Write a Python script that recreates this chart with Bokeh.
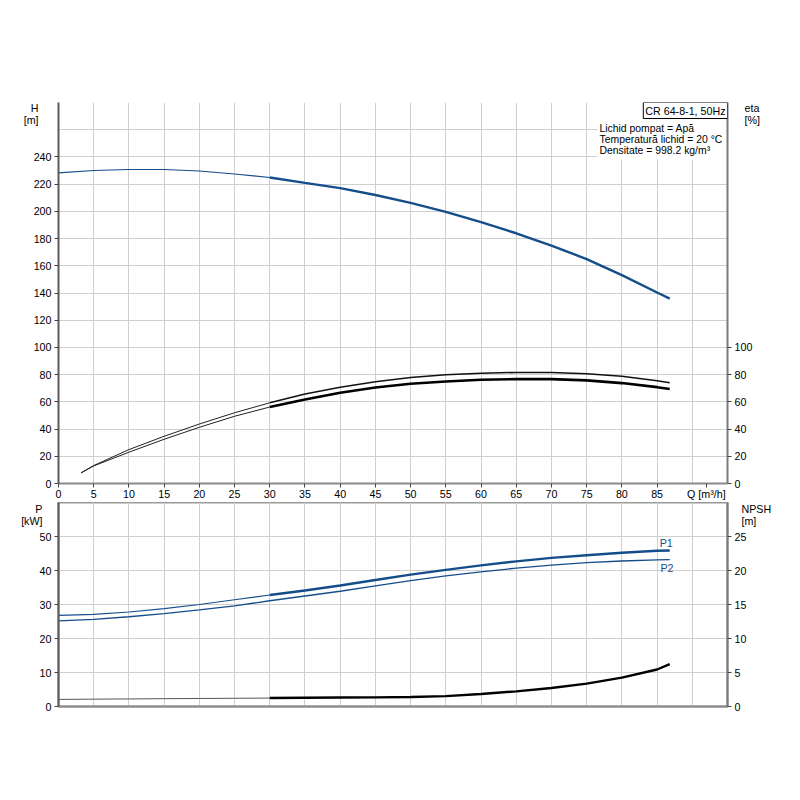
from bokeh.plotting import figure
from bokeh.models import Range1d, LinearAxis, FixedTicker, Label, BoxAnnotation
from bokeh.layouts import column
from bokeh.embed import file_html
from bokeh.resources import INLINE

FONT = "Liberation Sans"
FS = "10.7px"
BLUE = "#154d8b"
GRID = "#cfcfcf"

# ---------------- data ----------------
q_h = [0, 5, 10, 15, 20, 25, 30, 35, 40, 45, 50, 55, 60, 65, 70, 75, 80, 85, 86.8]
h = [228.3, 230.0, 230.8, 230.8, 229.7, 227.5, 224.9, 220.9, 217.1, 212.0, 206.2,
     199.6, 192.1, 183.9, 174.9, 164.9, 153.1, 140.4, 135.9]

q_eta = [3.2, 5, 10, 15, 20, 25, 30, 35, 40, 45, 50, 55, 60, 65, 70, 75, 80, 85, 86.8]
eta_upper = [7.8, 13.2, 24.9, 34.7, 43.7, 52.0, 59.3, 65.7, 70.8, 74.7, 77.9,
             79.9, 81.1, 81.6, 81.6, 80.6, 78.9, 75.5, 74.0]
eta_lower = [7.8, 12.9, 23.0, 32.5, 41.3, 49.4, 56.2, 61.8, 66.7, 70.6, 73.3,
             75.0, 76.2, 76.7, 76.7, 75.8, 73.8, 70.8, 69.4]

q_p = [0, 5, 10, 15, 20, 25, 30, 35, 40, 45, 50, 55, 60, 65, 70, 75, 80, 85, 86.8]
p1 = [26.8, 27.1, 27.8, 28.8, 30.0, 31.4, 32.8, 34.1, 35.6, 37.2, 38.8, 40.2,
      41.5, 42.7, 43.7, 44.5, 45.2, 45.8, 45.9]
p2 = [25.2, 25.6, 26.4, 27.3, 28.4, 29.6, 31.1, 32.5, 33.9, 35.5, 37.0, 38.4,
      39.6, 40.7, 41.6, 42.3, 42.8, 43.1, 43.2]
npsh = [1.04, 1.08, 1.11, 1.15, 1.18, 1.21, 1.24, 1.28, 1.32, 1.34, 1.40, 1.53,
        1.83, 2.23, 2.72, 3.36, 4.25, 5.44, 6.24]

q_label_ticks = list(range(0, 86, 5))
q_grid = list(range(0, 96, 5))
h_ticks = list(range(0, 241, 20))
h_grid = list(range(0, 281, 20))
eta_ticks = list(range(0, 101, 20))
p_ticks = list(range(0, 51, 10))
p_grid = list(range(0, 61, 10))
npsh_ticks = list(range(0, 26, 5))

Q_MAX = 95
H_MAX = 280
P_MAX = 60
NPSH_MAX = 30
DUTY_START = 30  # start of the thick (recommended) part of the curves

x_title = "Q [m³/h]"
h_title = ["H", "[m]"]
eta_title = ["eta", "[%]"]
p_title = ["P", "[kW]"]
npsh_title = ["NPSH", "[m]"]
legend_title = "CR 64-8-1, 50Hz"
info_lines = ["Lichid pompat = Apă", "Temperatură lichid = 20 °C", "Densitate = 998.2 kg/m³"]

# text placement (axis units) for the titles that sit outside the frames
X_TITLE_AT = 92
H_TITLE_AT = [276, 267]
P_TITLE_AT = [58, 54.5]
NPSH_TITLE_AT = [29, 27.25]


def split(xs, ys, at):
    thin = [(x, y) for x, y in zip(xs, ys) if x <= at]
    thick = [(x, y) for x, y in zip(xs, ys) if x >= at]
    return ([a for a, _ in thin], [b for _, b in thin]), ([a for a, _ in thick], [b for _, b in thick])


def style_axis(ax, line_color="#666666", line_width=2):
    ax.axis_line_color = line_color
    ax.axis_line_width = line_width
    ax.major_tick_line_color = "#444444"
    ax.major_tick_out = 4
    ax.major_tick_in = 0
    ax.minor_tick_line_color = None
    ax.major_label_text_font = FONT
    ax.major_label_text_font_size = FS
    ax.major_label_text_color = "black"
    ax.major_label_standoff = 3


def title_axis(ticks, texts, standoff, y_range_name="default"):
    ax = LinearAxis(y_range_name=y_range_name, ticker=FixedTicker(ticks=ticks),
                    major_label_overrides={t: s for t, s in zip(ticks, texts)})
    ax.axis_line_color = None
    ax.major_tick_line_color = None
    ax.minor_tick_line_color = None
    ax.major_tick_out = 0
    ax.major_tick_in = 0
    ax.major_label_text_font = FONT
    ax.major_label_text_font_size = FS
    ax.major_label_text_color = "black"
    ax.major_label_standoff = standoff
    return ax


def base_fig(frame_h, y_max, top_border, bottom_border):
    p = figure(frame_width=669, frame_height=frame_h,
               x_range=Range1d(0, Q_MAX), y_range=Range1d(0, y_max),
               output_backend="svg", toolbar_location=None,
               min_border_left=58, min_border_right=73,
               min_border_top=top_border, min_border_bottom=bottom_border)
    p.background_fill_color = "white"
    p.border_fill_color = "white"
    p.xgrid.ticker = FixedTicker(ticks=q_grid)
    p.xgrid.grid_line_color = GRID
    p.ygrid.grid_line_color = GRID
    return p


def label(p, x, y, text, align="center", baseline="middle", color="black", size=FS, **kw):
    lab = Label(x=x, y=y, text=text, text_font=FONT, text_font_size=size,
                text_color=color, text_align=align, text_baseline=baseline, **kw)
    p.add_layout(lab)
    return lab


def h_of(py):  # pixel row of the top panel -> H units (text placement only)
    return H_MAX - (py - 102) * H_MAX / 381.0


def q_of(px):
    return (px - 58) * Q_MAX / 669.0


# ---------------- top panel: H and eta ----------------
top = base_fig(381, H_MAX, 102, 0)
top.outline_line_color = None
top.ygrid.ticker = FixedTicker(ticks=h_grid)
top.extra_y_ranges = {"eta": Range1d(0, H_MAX)}

style_axis(top.yaxis[0], "#5a5a5a", 2)
top.yaxis[0].ticker = FixedTicker(ticks=h_ticks)
style_axis(top.xaxis[0], "#8a8a8a", 2)
top.xaxis[0].ticker = FixedTicker(ticks=q_label_ticks + [X_TITLE_AT])
top.xaxis[0].major_label_overrides = {X_TITLE_AT: x_title}
top.xaxis[0].major_label_standoff = 0

eta_axis = LinearAxis(y_range_name="eta", ticker=FixedTicker(ticks=eta_ticks))
style_axis(eta_axis, "#7a7a7a", 2)
top.add_layout(eta_axis, "right")

top.add_layout(title_axis(H_TITLE_AT, h_title, -8), "left")
top.add_layout(title_axis(H_TITLE_AT, eta_title, -11, "eta"), "right")

# white area behind the info text
top.add_layout(BoxAnnotation(left=q_of(597), right=Q_MAX, bottom=h_of(159), top=H_MAX,
                             fill_color="white", fill_alpha=1.0, line_color=None,
                             level="underlay"))

(hx0, hy0), (hx1, hy1) = split(q_h, h, DUTY_START)
top.line(hx0, hy0, line_color=BLUE, line_width=1.1)
top.line(hx1, hy1, line_color=BLUE, line_width=2.4)

(ux0, uy0), (ux1, uy1) = split(q_eta, eta_upper, DUTY_START)
top.line(ux0, uy0, line_color="#222222", line_width=1.0, y_range_name="eta")
top.line(ux1, uy1, line_color="#111111", line_width=1.5, y_range_name="eta")
(lx0, ly0), (lx1, ly1) = split(q_eta, eta_lower, DUTY_START)
top.line(lx0, ly0, line_color="#222222", line_width=1.0, y_range_name="eta")
top.line(lx1, ly1, line_color="black", line_width=2.6, y_range_name="eta")

label(top, Q_MAX, H_MAX, legend_title, align="right", baseline="top",
      border_line_color="black", border_line_width=1,
      background_fill_color="white", padding=2)
label(top, q_of(599), h_of(122), "\n".join(info_lines), align="left", baseline="top",
      text_line_height=1.0, size="10.4px")

# ---------------- bottom panel: P and NPSH ----------------
bot = base_fig(204, P_MAX, 0, 6)
bot.outline_line_color = "#9a9a9a"
bot.outline_line_width = 2
bot.ygrid.ticker = FixedTicker(ticks=p_grid)
bot.extra_y_ranges = {"npsh": Range1d(0, NPSH_MAX)}

style_axis(bot.yaxis[0], "#5a5a5a", 2)
bot.yaxis[0].ticker = FixedTicker(ticks=p_ticks)
style_axis(bot.xaxis[0], "#8a8a8a", 2)
bot.xaxis[0].ticker = FixedTicker(ticks=[])
bot.xaxis[0].major_tick_out = 0
bot.xaxis[0].major_label_standoff = 0

npsh_axis = LinearAxis(y_range_name="npsh", ticker=FixedTicker(ticks=npsh_ticks))
style_axis(npsh_axis, "#7a7a7a", 2)
bot.add_layout(npsh_axis, "right")

bot.add_layout(title_axis(P_TITLE_AT, p_title, -6), "left")
bot.add_layout(title_axis(NPSH_TITLE_AT, npsh_title, -8, "npsh"), "right")

(ax0, ay0), (ax1, ay1) = split(q_p, p1, DUTY_START)
bot.line(ax0, ay0, line_color=BLUE, line_width=1.1)
bot.line(ax1, ay1, line_color=BLUE, line_width=2.4)
bot.line(q_p, p2, line_color=BLUE, line_width=1.3)

(nx0, ny0), (nx1, ny1) = split(q_p, npsh, DUTY_START)
bot.line(nx0, ny0, line_color="#555555", line_width=1.0, y_range_name="npsh")
bot.line(nx1, ny1, line_color="black", line_width=2.4, y_range_name="npsh")

P_PER_PX = P_MAX / 204.0
label(bot, q_p[-1] - 0.5, p1[-1] + 7 * P_PER_PX, "P1", color=BLUE)
label(bot, q_p[-1] - 0.4, p2[-1] - 8 * P_PER_PX, "P2", color=BLUE)

layout = column(top, bot, spacing=0)
open("out.html", "w").write(file_html(layout, INLINE))
